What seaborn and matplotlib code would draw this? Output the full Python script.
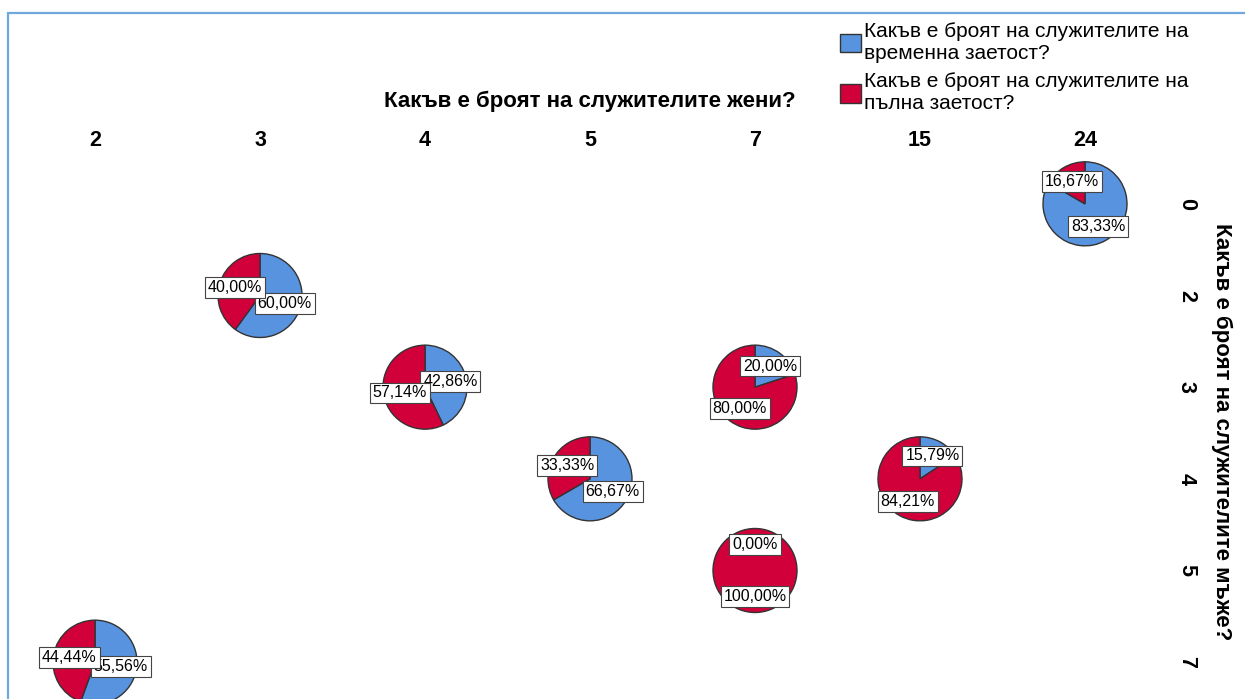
import numpy as np
import seaborn as sns
import matplotlib.pyplot as plt
from matplotlib.patches import Patch, Rectangle

# Категории по осите
women_cats = ["2", "3", "4", "5", "7", "15", "24"]
men_cats = ["0", "2", "3", "4", "5", "7"]

# Клетки с кръгови диаграми (жени, мъже) и процентите
cell_women = ["24", "3", "4", "7", "5", "15", "7", "2"]
cell_men = ["0", "2", "3", "3", "4", "4", "5", "7"]
temp_pct = [83.33, 60.00, 42.86, 20.00, 66.67, 15.79, 0.00, 55.56]
full_pct = [16.67, 40.00, 57.14, 80.00, 33.33, 84.21, 100.00, 44.44]

series_names = ["Какъв е броят на служителите на\nвременна заетост?",
                "Какъв е броят на служителите на\nпълна заетост?"]
x_title = "Какъв е броят на служителите жени?"
y_title = "Какъв е броят на служителите мъже?"

sns.set_style("white")
plt.rcParams['font.family'] = ['Liberation Sans', 'DejaVu Sans']
plt.rcParams['text.color'] = 'black'
plt.rcParams['xtick.color'] = 'black'
plt.rcParams['ytick.color'] = 'black'
colors = sns.color_palette(["#5893E0", "#D2003A"])

W, H = 1245, 699
fig = plt.figure(figsize=(W / 100, H / 100), dpi=100)

# основна ос: позиции на категориите
left, right, top, bottom = 12.5, 1167.5, 158, 708
ax = fig.add_axes([left / W, 1 - bottom / H, (right - left) / W, (bottom - top) / H])
ax.set_xlim(-0.5, len(women_cats) - 0.5)
ax.set_ylim(len(men_cats) - 0.5, -0.5)
ax.set_xticks(range(len(women_cats)))
ax.set_xticklabels(women_cats, fontsize=15.5, fontweight="bold")
ax.set_yticks(range(len(men_cats)))
ax.set_yticklabels(men_cats, fontsize=15.5, fontweight="bold", rotation=-90, va="center")
ax.xaxis.tick_top()
ax.yaxis.tick_right()
ax.tick_params(axis="x", length=0, pad=5)
ax.tick_params(axis="y", length=0, pad=6)
for s in ax.spines.values():
    s.set_visible(False)
ax.set_facecolor("none")

fig.text(590 / W, 1 - 101 / H, x_title, ha="center", va="center",
         fontsize=16, fontweight="bold")
fig.text(1222 / W, 1 - 432 / H, y_title, ha="center", va="center",
         rotation=-90, fontsize=16, fontweight="bold")

box = 100  # px, размер на малката ос
radius = 42 / (box / 2)
bw = box / (right - left)
bh = box / (bottom - top)


def fmt(p):
    return f"{p:.2f}".replace(".", ",") + "%"


for w, m, t, f in zip(cell_women, cell_men, temp_pct, full_pct):
    cx = women_cats.index(w)
    cy = men_cats.index(m)
    # център на клетката в координати на осите
    fx, fy = ax.transAxes.inverted().transform(ax.transData.transform((cx, cy)))
    sub = ax.inset_axes([fx - bw / 2, fy - bh / 2, bw, bh])
    sub.set_axis_off()
    wedges, texts, autotexts = sub.pie(
        [t, f], colors=colors, startangle=90, counterclock=False,
        radius=radius, autopct=fmt, pctdistance=0.62,
        wedgeprops=dict(edgecolor="#333333", linewidth=1),
        textprops=dict(fontsize=11.5))
    sub.set_xlim(-1, 1)
    sub.set_ylim(-1, 1)
    sub.set_aspect("equal")
    for at in autotexts:
        at.set_bbox(dict(boxstyle="square,pad=0.18", facecolor="white",
                         edgecolor="#444444", linewidth=0.8))

handles = [Patch(facecolor=colors[i], edgecolor="#333333", linewidth=1)
           for i in range(2)]
leg = fig.legend(handles, series_names, loc="upper left",
                 bbox_to_anchor=(840 / W, 1 - 22 / H), frameon=False, fontsize=15,
                 handlelength=1.0, handleheight=1.0, handletextpad=0.15,
                 labelspacing=0.45, borderaxespad=0, borderpad=0)
for txt in leg.get_texts():
    txt.set_linespacing(1.2)

# синя рамка
fig.add_artist(Rectangle((8 / W, -0.1), 1.2, 1 - 13 / H + 0.1,
                         transform=fig.transFigure, fill=False,
                         edgecolor="#6FA8DC", linewidth=1.6))

fig.savefig("out.png", dpi=100)
